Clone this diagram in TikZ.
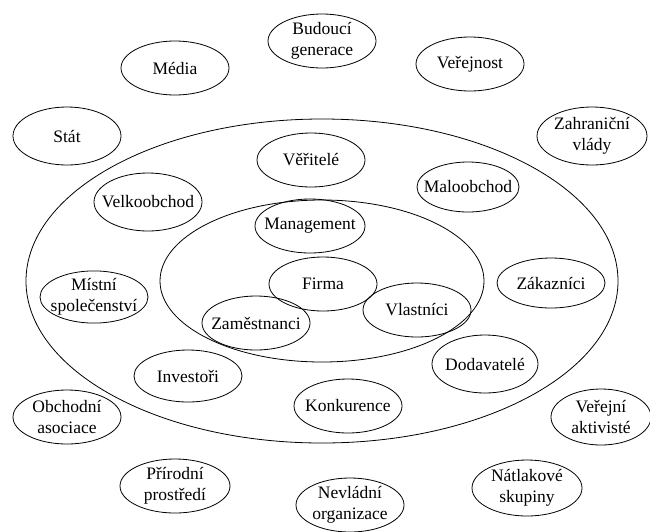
\documentclass[tikz,border=0pt]{standalone}
\usepackage{fontspec}
\setmainfont{Liberation Serif}
\usetikzlibrary{shapes.geometric}
\begin{document}
\begin{tikzpicture}[x=1pt, y=-1pt,
	party/.style={draw, ellipse, line width=0.8pt, inner xsep=-16pt, inner ysep=0pt, align=center,
		minimum width=108pt, minimum height=54pt,
		font=\fontsize{17.5}{21}\selectfont}]
	\useasboundingbox (0, 0) rectangle (650, 531);
	% Centre of the rings
	\coordinate (O) at (322, 281);
	\draw[line width=0.8pt] (O) ellipse [x radius=296, y radius=162];
	\draw[line width=0.8pt] (O) ellipse [x radius=162, y radius=81];
	% Outer ring of stakeholders
	\node[party] (future) at (322, 41) {Budoucí\\generace};
	\node[party] (media) at (175, 68) {Média};
	\node[party] (public) at (470, 64) {Veřejnost};
	\node[party, minimum height=58pt] (state) at (67, 136) {Stát};
	\node[party, minimum width=110pt, minimum height=58pt] (foreign) at (592, 136) {Zahraniční\\vlády};
	\node[party] (trade) at (67, 417) {Obchodní\\asociace};
	\node[party, minimum width=100pt, minimum height=56pt] (activists) at (601, 417) {Veřejní\\aktivisté};
	\node[party, minimum width=110pt] (nature) at (175, 486) {Přírodní\\prostředí};
	\node[party, minimum width=110pt, minimum height=56pt] (pressure) at (527, 488) {Nátlakové\\skupiny};
	\node[party] (ngo) at (350, 505) {Nevládní\\organizace};
	% Middle ring
	\node[party] (creditors) at (311, 160) {Věřitelé};
	\node[party, minimum height=58pt] (wholesale) at (148, 202) {Velkoobchod};
	\node[party, minimum width=102pt, minimum height=50pt] (retail) at (468, 187) {Maloobchod};
	\node[party, minimum height=50pt] (community) at (94, 297) {Místní\\společenství};
	\node[party, minimum height=50pt] (customers) at (551, 283) {Zákazníci};
	\node[party, minimum height=52pt] (investors) at (188, 376) {Investoři};
	\node[party, minimum width=106pt, minimum height=58pt] (suppliers) at (485, 364) {Dodavatelé};
	\node[party] (rivals) at (348, 406) {Konkurence};
	% Inner ring
	\node[party, minimum width=110pt] (management) at (310, 226) {Management};
	\node[party] (firm) at (323, 284) {Firma};
	\node[party] (staff) at (256, 323) {Zaměstnanci};
	\node[party] (owners) at (417, 310) {Vlastníci};
\end{tikzpicture}
\end{document}
